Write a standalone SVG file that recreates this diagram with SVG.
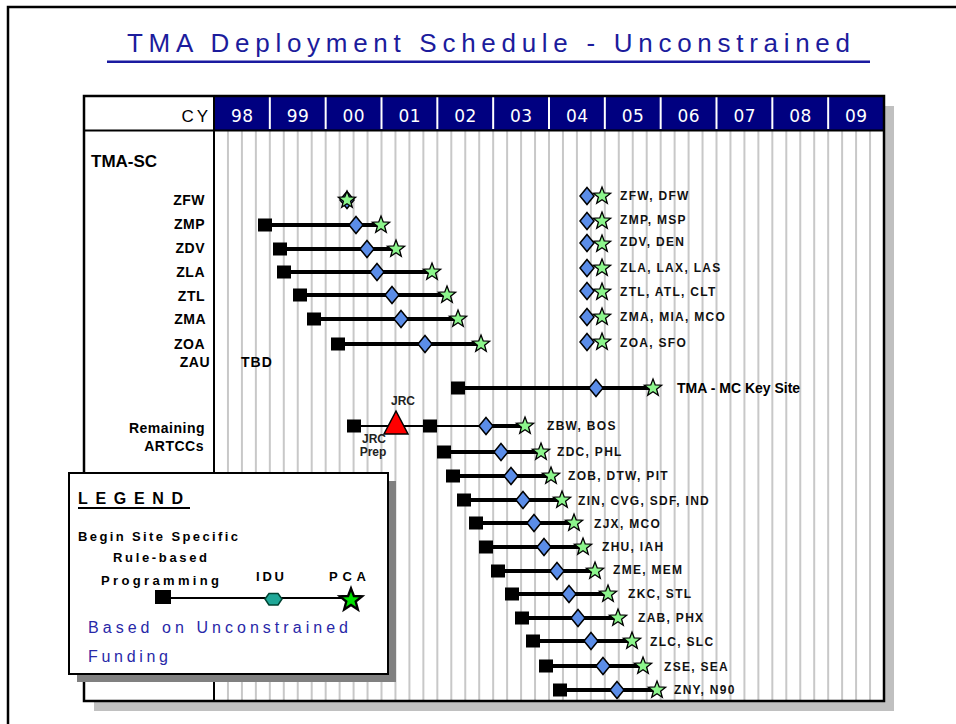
<svg xmlns="http://www.w3.org/2000/svg" xmlns:xlink="http://www.w3.org/1999/xlink" width="956" height="724" viewBox="0 0 956 724">
<style>
text{font-family:"Liberation Sans",Arial,sans-serif}
.lab{font-size:14px;font-weight:bold;text-anchor:end;letter-spacing:0.5px;fill:#000}
.rl{font-size:12px;font-weight:bold;letter-spacing:1.3px;fill:#111}
.yr{font-family:"DejaVu Sans",sans-serif;font-size:17px;fill:#fff;text-anchor:middle;letter-spacing:0.5px}
.sq{fill:#000}
.dia{fill:#5b8de8;stroke:#000;stroke-width:1.5}
.star{fill:#8cf58c;stroke:#000;stroke-width:1.3;stroke-linejoin:miter}
.thick{stroke:#000;stroke-width:4}
.thin{stroke:#000;stroke-width:2}
.grid line{stroke:#c8c8c8;stroke-width:2}
.small{font-size:12px;font-weight:bold;text-anchor:middle;fill:#222}
</style>
<defs>
<path id="star" d="M0,-9 L2.23,-3.07 L8.56,-2.78 L3.61,1.17 L5.29,7.28 L0,3.8 L-5.29,7.28 L-3.61,1.17 L-8.56,-2.78 L-2.23,-3.07Z"/>
<path id="dia" d="M0,-8.5 L7,0 L0,8.5 L-7,0Z"/>
<rect id="sq" x="-7" y="-6.5" width="14" height="13"/>
</defs>
<rect width="956" height="724" fill="#fff"/>
<!-- page frame -->
<path d="M8,724 V7 H956" fill="none" stroke="#000" stroke-width="2.5"/>
<!-- title -->
<g id="title">
<text x="127" y="52" font-size="26" fill="#1c1c9c" textLength="723" lengthAdjust="spacing">TMA Deployment Schedule - Unconstrained</text>
<rect x="107" y="60.5" width="763" height="2.5" fill="#1a1aa0"/>
</g>
<!-- chart frame -->
<g id="chart">
<rect x="94" y="106" width="800" height="605" fill="#c0c0c0"/>
<rect x="84" y="96" width="800" height="605" fill="#fff"/>
<rect x="214" y="96" width="670" height="34" fill="#000080"/>
<g class="grid">
<line x1="227.96" y1="131" x2="227.96" y2="700"/><line x1="241.92" y1="131" x2="241.92" y2="700"/><line x1="255.87" y1="131" x2="255.87" y2="700"/><line x1="269.83" y1="131" x2="269.83" y2="700"/>
<line x1="283.79" y1="131" x2="283.79" y2="700"/><line x1="297.75" y1="131" x2="297.75" y2="700"/><line x1="311.71" y1="131" x2="311.71" y2="700"/><line x1="325.67" y1="131" x2="325.67" y2="700"/>
<line x1="339.62" y1="131" x2="339.62" y2="700"/><line x1="353.58" y1="131" x2="353.58" y2="700"/><line x1="367.54" y1="131" x2="367.54" y2="700"/><line x1="381.5" y1="131" x2="381.5" y2="700"/>
<line x1="395.46" y1="131" x2="395.46" y2="700"/><line x1="409.42" y1="131" x2="409.42" y2="700"/><line x1="423.37" y1="131" x2="423.37" y2="700"/><line x1="437.33" y1="131" x2="437.33" y2="700"/>
<line x1="451.29" y1="131" x2="451.29" y2="700"/><line x1="465.25" y1="131" x2="465.25" y2="700"/><line x1="479.21" y1="131" x2="479.21" y2="700"/><line x1="493.17" y1="131" x2="493.17" y2="700"/>
<line x1="507.12" y1="131" x2="507.12" y2="700"/><line x1="521.08" y1="131" x2="521.08" y2="700"/><line x1="535.04" y1="131" x2="535.04" y2="700"/><line x1="549" y1="131" x2="549" y2="700"/>
<line x1="562.96" y1="131" x2="562.96" y2="700"/><line x1="576.92" y1="131" x2="576.92" y2="700"/><line x1="590.87" y1="131" x2="590.87" y2="700"/><line x1="604.83" y1="131" x2="604.83" y2="700"/>
<line x1="618.79" y1="131" x2="618.79" y2="700"/><line x1="632.75" y1="131" x2="632.75" y2="700"/><line x1="646.71" y1="131" x2="646.71" y2="700"/><line x1="660.67" y1="131" x2="660.67" y2="700"/>
<line x1="674.62" y1="131" x2="674.62" y2="700"/><line x1="688.58" y1="131" x2="688.58" y2="700"/><line x1="702.54" y1="131" x2="702.54" y2="700"/><line x1="716.5" y1="131" x2="716.5" y2="700"/>
<line x1="730.46" y1="131" x2="730.46" y2="700"/><line x1="744.42" y1="131" x2="744.42" y2="700"/><line x1="758.37" y1="131" x2="758.37" y2="700"/><line x1="772.33" y1="131" x2="772.33" y2="700"/>
<line x1="786.29" y1="131" x2="786.29" y2="700"/><line x1="800.25" y1="131" x2="800.25" y2="700"/><line x1="814.21" y1="131" x2="814.21" y2="700"/><line x1="828.17" y1="131" x2="828.17" y2="700"/>
<line x1="842.12" y1="131" x2="842.12" y2="700"/><line x1="856.08" y1="131" x2="856.08" y2="700"/><line x1="870.04" y1="131" x2="870.04" y2="700"/>
</g>
<g stroke="#fff" stroke-width="2">
<line x1="269.83" y1="97" x2="269.83" y2="129"/><line x1="325.67" y1="97" x2="325.67" y2="129"/><line x1="381.5" y1="97" x2="381.5" y2="129"/><line x1="437.33" y1="97" x2="437.33" y2="129"/>
<line x1="493.17" y1="97" x2="493.17" y2="129"/><line x1="549" y1="97" x2="549" y2="129"/><line x1="604.83" y1="97" x2="604.83" y2="129"/><line x1="660.67" y1="97" x2="660.67" y2="129"/>
<line x1="716.5" y1="97" x2="716.5" y2="129"/><line x1="772.33" y1="97" x2="772.33" y2="129"/><line x1="828.17" y1="97" x2="828.17" y2="129"/>
</g>
<line x1="84" y1="130.5" x2="884" y2="130.5" stroke="#000" stroke-width="2"/>
<line x1="214" y1="96" x2="214" y2="701" stroke="#000" stroke-width="2"/>
<rect x="84" y="96" width="800" height="605" fill="none" stroke="#000" stroke-width="2.5"/>
<text x="211" y="122" font-family="DejaVu Sans, sans-serif" font-size="17" fill="#000" text-anchor="end" letter-spacing="3">CY</text>
<text class="yr" x="242.3" y="122">98</text>
<text class="yr" x="298" y="122">99</text>
<text class="yr" x="353.8" y="122">00</text>
<text class="yr" x="409.7" y="122">01</text>
<text class="yr" x="465.5" y="122">02</text>
<text class="yr" x="521.3" y="122">03</text>
<text class="yr" x="577.2" y="122">04</text>
<text class="yr" x="633" y="122">05</text>
<text class="yr" x="688.8" y="122">06</text>
<text class="yr" x="744.7" y="122">07</text>
<text class="yr" x="800.5" y="122">08</text>
<text class="yr" x="856.3" y="122">09</text>
<text x="91" y="167" font-size="17" font-weight="bold">TMA-SC</text>
</g>
<!-- connectors -->
<g id="connectors">
<line class="thick" x1="265" y1="225" x2="381" y2="225"/>
<line class="thick" x1="280" y1="249" x2="396" y2="249"/>
<line class="thick" x1="284" y1="272" x2="432" y2="272"/>
<line class="thick" x1="300" y1="295" x2="447" y2="295"/>
<line class="thick" x1="314" y1="319" x2="458" y2="319"/>
<line class="thick" x1="338" y1="344" x2="481" y2="344"/>
<line class="thick" x1="458" y1="388" x2="653" y2="388"/>
<line class="thin" x1="354" y1="426" x2="486" y2="426"/>
<line class="thick" x1="486" y1="426" x2="525" y2="426"/>
<line class="thick" x1="444" y1="452" x2="541" y2="452"/>
<line class="thick" x1="453" y1="476" x2="551" y2="476"/>
<line class="thick" x1="464" y1="500" x2="562" y2="500"/>
<line class="thick" x1="476" y1="523" x2="574" y2="523"/>
<line class="thick" x1="486" y1="547" x2="583" y2="547"/>
<line class="thick" x1="498" y1="571" x2="595" y2="571"/>
<line class="thick" x1="512" y1="594" x2="608" y2="594"/>
<line class="thick" x1="522" y1="618" x2="618" y2="618"/>
<line class="thick" x1="533" y1="641" x2="632" y2="641"/>
<line class="thick" x1="546" y1="666" x2="643" y2="666"/>
<line class="thick" x1="560" y1="690" x2="657" y2="690"/>
</g>
<!-- TMA-SC rows -->
<g id="zfw"><text class="lab" x="205" y="205">ZFW</text><use href="#dia" class="dia" x="347" y="200"/><use href="#star" class="star" x="347" y="200"/>
<use href="#dia" class="dia" x="587" y="196"/><use href="#star" class="star" x="602" y="196"/><text class="rl" x="620" y="200">ZFW, DFW</text></g>
<g id="zmp"><text class="lab" x="205" y="229">ZMP</text><use href="#sq" class="sq" x="265" y="225"/><use href="#dia" class="dia" x="356" y="225"/><use href="#star" class="star" x="381" y="225"/>
<use href="#dia" class="dia" x="587" y="221"/><use href="#star" class="star" x="602" y="221"/><text class="rl" x="620" y="224">ZMP, MSP</text></g>
<g id="zdv"><text class="lab" x="205" y="253">ZDV</text><use href="#sq" class="sq" x="280" y="249"/><use href="#dia" class="dia" x="367" y="249"/><use href="#star" class="star" x="396" y="249"/>
<use href="#dia" class="dia" x="587" y="243"/><use href="#star" class="star" x="602" y="244"/><text class="rl" x="620" y="246">ZDV, DEN</text></g>
<g id="zla"><text class="lab" x="205" y="277">ZLA</text><use href="#sq" class="sq" x="284" y="272"/><use href="#dia" class="dia" x="377" y="272"/><use href="#star" class="star" x="432" y="272"/>
<use href="#dia" class="dia" x="587" y="268"/><use href="#star" class="star" x="602" y="268"/><text class="rl" x="620" y="272">ZLA, LAX, LAS</text></g>
<g id="ztl"><text class="lab" x="205" y="301">ZTL</text><use href="#sq" class="sq" x="300" y="295"/><use href="#dia" class="dia" x="392" y="295"/><use href="#star" class="star" x="447" y="295"/>
<use href="#dia" class="dia" x="587" y="291"/><use href="#star" class="star" x="602" y="292"/><text class="rl" x="620" y="296">ZTL, ATL, CLT</text></g>
<g id="zma"><text class="lab" x="206" y="324">ZMA</text><use href="#sq" class="sq" x="314" y="319"/><use href="#dia" class="dia" x="401" y="319"/><use href="#star" class="star" x="458" y="319"/>
<use href="#dia" class="dia" x="587" y="317"/><use href="#star" class="star" x="602" y="317"/><text class="rl" x="620" y="321">ZMA, MIA, MCO</text></g>
<g id="zoa"><text class="lab" x="205" y="349">ZOA</text><use href="#sq" class="sq" x="338" y="344"/><use href="#dia" class="dia" x="425" y="344"/><use href="#star" class="star" x="481" y="344"/>
<use href="#dia" class="dia" x="587" y="342"/><use href="#star" class="star" x="602" y="342"/><text class="rl" x="620" y="347">ZOA, SFO</text></g>
<g id="zau"><text class="lab" x="210" y="367">ZAU</text><text x="241" y="367" font-size="14" font-weight="bold" letter-spacing="1">TBD</text></g>
<g id="tmamc"><use href="#sq" class="sq" x="458" y="388"/><use href="#dia" class="dia" x="596" y="388"/><use href="#star" class="star" x="653" y="388"/>
<text x="677" y="393" font-size="14" font-weight="bold">TMA - MC Key Site</text></g>
<!-- Remaining ARTCCs -->
<g id="remaining"><text class="lab" x="205" y="433">Remaining</text><text class="lab" x="204" y="451">ARTCCs</text>
<use href="#sq" class="sq" x="354" y="426"/>
<polygon points="396,411 408,434 384,434" fill="#f00" stroke="#000" stroke-width="1.5"/>
<text class="small" x="403" y="405">JRC</text><text class="small" x="374" y="443">JRC</text><text class="small" x="373" y="456">Prep</text>
<use href="#sq" class="sq" x="430" y="426"/></g>
<g id="zbw"><use href="#dia" class="dia" x="486" y="426"/><use href="#star" class="star" x="525" y="426"/><text class="rl" x="547" y="430">ZBW, BOS</text></g>
<g id="zdc"><use href="#sq" class="sq" x="444" y="452"/><use href="#dia" class="dia" x="501" y="452"/><use href="#star" class="star" x="541" y="452"/><text class="rl" x="557" y="456">ZDC, PHL</text></g>
<g id="zob"><use href="#sq" class="sq" x="453" y="476"/><use href="#dia" class="dia" x="511" y="476"/><use href="#star" class="star" x="551" y="476"/><text class="rl" x="568" y="480">ZOB, DTW, PIT</text></g>
<g id="zin"><use href="#sq" class="sq" x="464" y="500"/><use href="#dia" class="dia" x="523" y="500"/><use href="#star" class="star" x="562" y="500"/><text class="rl" x="578" y="505">ZIN, CVG, SDF, IND</text></g>
<g id="zjx"><use href="#sq" class="sq" x="476" y="523"/><use href="#dia" class="dia" x="534" y="523"/><use href="#star" class="star" x="574" y="523"/><text class="rl" x="594" y="528">ZJX, MCO</text></g>
<g id="zhu"><use href="#sq" class="sq" x="486" y="547"/><use href="#dia" class="dia" x="544" y="547"/><use href="#star" class="star" x="583" y="547"/><text class="rl" x="602" y="551">ZHU, IAH</text></g>
<g id="zme"><use href="#sq" class="sq" x="498" y="571"/><use href="#dia" class="dia" x="557" y="571"/><use href="#star" class="star" x="595" y="571"/><text class="rl" x="613" y="574">ZME, MEM</text></g>
<g id="zkc"><use href="#sq" class="sq" x="512" y="594"/><use href="#dia" class="dia" x="569" y="594"/><use href="#star" class="star" x="608" y="594"/><text class="rl" x="628" y="598">ZKC, STL</text></g>
<g id="zab"><use href="#sq" class="sq" x="522" y="618"/><use href="#dia" class="dia" x="578" y="618"/><use href="#star" class="star" x="618" y="618"/><text class="rl" x="638" y="622">ZAB, PHX</text></g>
<g id="zlc"><use href="#sq" class="sq" x="533" y="641"/><use href="#dia" class="dia" x="591" y="641"/><use href="#star" class="star" x="632" y="641"/><text class="rl" x="650" y="646">ZLC, SLC</text></g>
<g id="zse"><use href="#sq" class="sq" x="546" y="666"/><use href="#dia" class="dia" x="603" y="666"/><use href="#star" class="star" x="643" y="666"/><text class="rl" x="664" y="671">ZSE, SEA</text></g>
<g id="zny"><use href="#sq" class="sq" x="560" y="690"/><use href="#dia" class="dia" x="617" y="690"/><use href="#star" class="star" x="657" y="690"/><text class="rl" x="674" y="694">ZNY, N90</text></g>
<!-- Legend -->
<g id="legend">
<rect x="77" y="481" width="319" height="201" fill="#808080"/>
<rect x="69" y="473" width="319" height="201" fill="#fff" stroke="#000" stroke-width="2"/>
<text x="78" y="504" font-size="16" font-weight="bold" textLength="105" lengthAdjust="spacing">LEGEND</text>
<line x1="78" y1="508" x2="190" y2="508" stroke="#000" stroke-width="2"/>
<text x="78" y="541" font-size="13" font-weight="bold" textLength="160" lengthAdjust="spacing">Begin Site Specific</text>
<text x="113" y="562" font-size="13" font-weight="bold" textLength="94" lengthAdjust="spacing">Rule-based</text>
<text x="101" y="585" font-size="13" font-weight="bold" textLength="118" lengthAdjust="spacing">Programming</text>
<text x="256" y="581" font-size="13" font-weight="bold" textLength="28" lengthAdjust="spacing">IDU</text>
<text x="329" y="581" font-size="13" font-weight="bold" textLength="37" lengthAdjust="spacing">PCA</text>
<line x1="163" y1="598" x2="351" y2="598" stroke="#000" stroke-width="2"/>
<rect x="155" y="590" width="16" height="14" fill="#000"/>
<polygon points="265,599 269,593.5 278,593.5 282,599 278,605 269,605" fill="#1fa898" stroke="#043" stroke-width="1.5"/>
<use href="#star" x="0" y="0" transform="translate(351,600) scale(1.3)" fill="#00e000" stroke="#000" stroke-width="1.8"/>
<text x="88" y="633" font-size="16" fill="#2828a8" textLength="260" lengthAdjust="spacing">Based on Unconstrained</text>
<text x="88" y="662" font-size="16" fill="#2828a8" textLength="80" lengthAdjust="spacing">Funding</text>
</g>
</svg>
